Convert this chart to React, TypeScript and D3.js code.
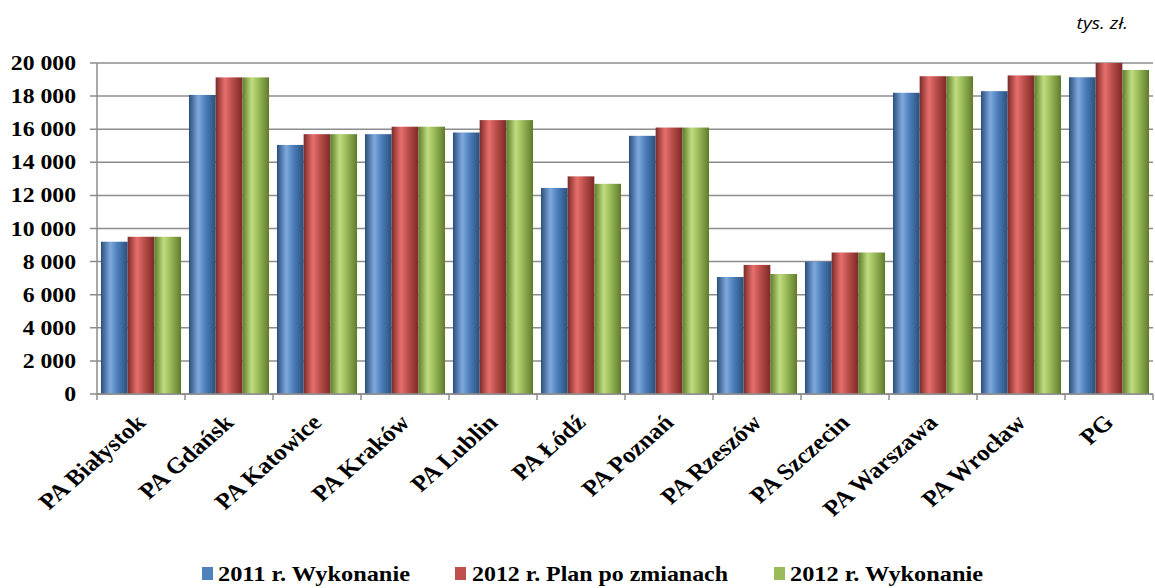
import React from "react";
import * as d3 from "d3";

const categories = [
  "PA Białystok",
  "PA Gdańsk",
  "PA Katowice",
  "PA Kraków",
  "PA Lublin",
  "PA Łódź",
  "PA Poznań",
  "PA Rzeszów",
  "PA Szczecin",
  "PA Warszawa",
  "PA Wrocław",
  "PG",
];
const seriesNames = ["2011 r. Wykonanie", "2012 r. Plan po zmianach", "2012 r. Wykonanie"];
const wyk2011 = [9200, 18070, 15050, 15700, 15800, 12450, 15600, 7070, 8000, 18200, 18300, 19140];
const plan2012 = [9500, 19130, 15700, 16150, 16550, 13150, 16100, 7800, 8550, 19200, 19250, 20000];
const wyk2012 = [9500, 19130, 15700, 16150, 16550, 12700, 16100, 7250, 8550, 19200, 19250, 19580];
const yTicks = [0, 2000, 4000, 6000, 8000, 10000, 12000, 14000, 16000, 18000, 20000];
const unitLabel = "tys. zł.";

const colors = ["#4F81BD", "#C0504D", "#9BBB59"];
const darks = ["#2a4f7e", "#7a2a28", "#5f7a2c"];
const lights = ["#7fa9dd", "#e8706c", "#c0dc7f"];

const fmt = (v: number) => d3.format(",")(v).replace(/,/g, " ");

export default function App() {
  const W = 1155;
  const H = 588;
  const left = 97;
  const right = 1153;
  const top = 63;
  const bottom = 394;
  const sx = 1.13;
  const x = d3.scaleBand<string>().domain(categories).range([left, right]).paddingInner(0.09).paddingOuter(0.045);
  const x0 = d3.scaleBand<string>().domain(categories).range([left, right]);
  const y = d3.scaleLinear().domain([0, 20000]).range([bottom, top]);
  const series = [wyk2011, plan2012, wyk2012];
  const xs = d3.scaleBand<number>().domain([0, 1, 2]).range([0, x.bandwidth()]);
  const serif = "Liberation Serif, DejaVu Serif, serif";
  const legendSq = [202, 455, 774];
  const legendTx = [218, 472, 790];
  const legendLen = [192, 256, 193];

  return (
    <svg width={W} height={H} style={{ position: "absolute", left: 0, top: 0 }}>
      <defs>
        {colors.map((c, i) => (
          <linearGradient key={i} id={`g${i}`} x1="0" x2="1" y1="0" y2="0">
            <stop offset="0" stopColor={darks[i]} />
            <stop offset="0.35" stopColor={lights[i]} />
            <stop offset="0.6" stopColor={c} />
            <stop offset="1" stopColor={darks[i]} />
          </linearGradient>
        ))}
      </defs>
      <rect width={W} height={H} fill="#fff" />
      <g transform={`translate(1128,29) scale(${sx},1)`}>
        <text x={0} y={0} fontFamily="Open Sans, Liberation Sans, sans-serif" fontStyle="italic" fontSize={17} textAnchor="end" fill="#000">
          {unitLabel}
        </text>
      </g>
      {yTicks.map((t) => (
        <g key={t}>
          <line x1={left - 7} x2={right} y1={y(t)} y2={y(t)} stroke="#8c8c8c" strokeWidth={1.5} />
          <g transform={`translate(76,${y(t) + 7}) scale(${sx},1)`}>
            <text x={0} y={0} textAnchor="end" fontFamily={serif} fontWeight="bold" fontSize={21} fill="#000">
              {fmt(t)}
            </text>
          </g>
        </g>
      ))}
      <line x1={left} x2={left} y1={top} y2={bottom} stroke="#8c8c8c" strokeWidth={1.5} />
      {categories.map((c, ci) => (
        <g key={c}>
          {series.map((s, si) => (
            <rect
              key={si}
              x={(x(c) as number) + (xs(si) as number)}
              y={y(s[ci])}
              width={xs.bandwidth()}
              height={bottom - y(s[ci])}
              fill={`url(#g${si})`}
            />
          ))}
        </g>
      ))}
      <line x1={left} x2={right} y1={bottom} y2={bottom} stroke="#8c8c8c" strokeWidth={1.5} />
      {categories.map((c) => (
        <line key={c} x1={x0(c) as number} x2={x0(c) as number} y1={bottom} y2={bottom + 6} stroke="#8c8c8c" strokeWidth={1.5} />
      ))}
      <line x1={right} x2={right} y1={bottom} y2={bottom + 6} stroke="#8c8c8c" strokeWidth={1.5} />
      {categories.map((c) => {
        const cx = (x0(c) as number) + x0.bandwidth() / 2 + 6;
        const cy = 424;
        return (
          <text
            key={c}
            transform={`translate(${cx},${cy}) scale(${sx},1) rotate(-45)`}
            textAnchor="end"
            fontFamily={serif}
            fontWeight="bold"
            fontSize={22.5}
            fill="#000"
          >
            {c}
          </text>
        );
      })}
      {seriesNames.map((n, i) => (
        <g key={n}>
          <rect x={legendSq[i]} y={567} width={11} height={13} fill={colors[i]} />
          <text
            x={legendTx[i]}
            y={581}
            fontFamily={serif}
            fontWeight="bold"
            fontSize={21}
            textLength={legendLen[i]}
            lengthAdjust="spacingAndGlyphs"
            fill="#000"
          >
            {n}
          </text>
        </g>
      ))}
    </svg>
  );
}
